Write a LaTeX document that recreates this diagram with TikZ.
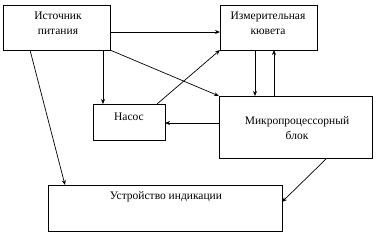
\documentclass[tikz,border=0pt]{standalone}
\usepackage{fontspec}
\setmainfont{Liberation Serif}
\usetikzlibrary{arrows.meta}
\begin{document}
\begin{tikzpicture}[x=1pt,y=-1pt,
  box/.style={draw,line width=0.8pt,outer sep=0pt,inner sep=0pt,anchor=north west},
  lbl/.style={align=center,inner sep=0pt,font=\fontsize{11.5}{15}\selectfont},
  arr/.style={line width=0.7pt,-{Stealth[length=5pt,width=4pt]}}]
\useasboundingbox (0,0) rectangle (377,234);
\node[box,minimum width=107pt,minimum height=45pt] (src) at (3,5) {};
\node[box,minimum width=97pt,minimum height=45pt] (cuv) at (220,5) {};
\node[box,minimum width=72pt,minimum height=36pt] (nas) at (93,104) {};
\node[box,minimum width=153pt,minimum height=62pt] (mcu) at (219,96) {};
\node[box,minimum width=234pt,minimum height=46pt] (ind) at (48,185) {};
\node[lbl] (tsrc) at (58,23.5) {Источник\\питания};
\node[lbl] (tcuv) at (268,23.5) {Измерительная\\кювета};
\node[lbl] (tnas) at (129,117) {Насос};
\node[lbl] (tmcu) at (297,128) {Микропроцессорный\\блок};
\node[lbl] (tind) at (166,197) {Устройство индикации};
\coordinate (n1) at ([xshift=10pt]nas.north west);
\coordinate (c1) at ([xshift=35pt]cuv.south west);
\coordinate (c2) at ([xshift=54pt]cuv.south west);
\coordinate (m1) at ([yshift=4pt]mcu.west);
\draw[arr] ([yshift=-4.5pt]src.east) -- ([yshift=-4.5pt]cuv.west);
\draw[arr] (n1 |- src.south) -- (n1);
\draw[arr] (src.south east) -- (mcu.north west);
\draw[arr] ([xshift=-8pt]nas.north east) -- (cuv.south west);
\draw[arr] (c1) -- (c1 |- mcu.north);
\draw[arr] (c2 |- mcu.north) -- (c2);
\draw[arr] (m1) -- (m1 -| nas.east);
\draw[arr] ([xshift=27pt]src.south west) -- ([xshift=17pt]ind.north west);
\draw[arr] ([xshift=108pt]mcu.south west) -- ([yshift=6pt]ind.east);
\end{tikzpicture}
\end{document}
